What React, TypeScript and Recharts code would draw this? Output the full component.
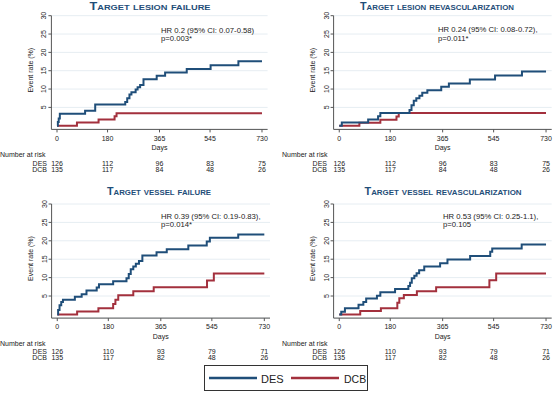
import React from 'react';
import { LineChart, Line, XAxis, YAxis, CartesianGrid } from 'recharts';

const DES_COLOR = '#1f4e79';
const DCB_COLOR = '#a3303d';
const TITLE_COLOR = '#1f4e79';
const AXIS_COLOR = '#555';
const FONT = '"Liberation Sans", Arial, Helvetica, sans-serif';

const dayTicks = [0, 180, 365, 545, 730];
const rateTicks = [5, 10, 15, 20, 25, 30];

// number at risk under each day tick
const riskLesionDES = [126, 112, 96, 83, 75];
const riskLesionDCB = [135, 117, 84, 48, 26];
const riskVesselDES = [126, 110, 93, 79, 71];
const riskVesselDCB = [135, 117, 82, 48, 26];

// Kaplan-Meier curves, [day, event rate %]
const tlfDES = [
  [0, 0], [3, 1], [6, 2], [10, 3.3], [100, 4.1], [136, 5.8], [243, 6.5], [250, 7.5],
  [258, 8.5], [265, 9.1], [280, 9.9], [287, 10.5], [296, 11.1], [308, 12.7], [355, 13.6],
  [385, 14.5], [462, 15.5], [547, 16.5], [646, 17.6], [730, 17.6],
];
const tlfDCB = [[0, 0], [71, 0.9], [148, 1.7], [205, 2.6], [212, 3.4], [730, 3.4]];

const tlrDES = [
  [0, 0], [9, 0.9], [102, 1.7], [137, 2.6], [145, 3.5], [248, 4.3], [255, 5.6], [263, 6.8],
  [272, 7.5], [283, 8.2], [293, 9.0], [311, 9.7], [360, 10.6], [387, 11.5], [461, 12.6],
  [550, 13.7], [645, 14.8], [730, 14.8],
];
const tlrDCB = [[0, 0], [71, 0.8], [145, 1.6], [202, 2.5], [210, 3.5], [730, 3.5]];

const tvfDES = [
  [0, 0], [3, 1.2], [8, 2.5], [14, 3.4], [20, 4.0], [62, 4.8], [86, 5.5], [103, 6.5],
  [139, 7.3], [147, 8.2], [197, 9.0], [244, 9.8], [252, 11.0], [259, 12.3], [268, 13.0],
  [277, 13.8], [288, 14.5], [300, 16.0], [350, 16.9], [386, 17.7], [462, 18.7], [527, 19.8],
  [538, 20.8], [638, 21.7], [730, 21.7],
];
const tvfDCB = [
  [0, 0], [70, 0.8], [145, 1.7], [197, 2.8], [205, 4.0], [215, 5.2], [268, 6.3], [340, 7.4],
  [528, 9.2], [552, 11.1], [730, 11.1],
];

const tvrDES = [
  [0, 0], [7, 0.7], [20, 1.7], [68, 2.6], [85, 3.4], [95, 4.3], [133, 5.1], [145, 6.0],
  [197, 6.9], [244, 7.7], [250, 8.6], [256, 9.8], [265, 10.5], [273, 11.2], [282, 12.0],
  [300, 13.0], [356, 13.9], [382, 14.9], [462, 15.9], [533, 17.0], [540, 17.9], [644, 19.0],
  [730, 19.0],
];
const tvrDCB = [
  [0, 0], [74, 0.9], [147, 1.7], [205, 3.2], [212, 4.4], [228, 5.3], [274, 6.3], [342, 7.4],
  [530, 9.3], [554, 11.1], [730, 11.1],
];

const toRows = (pts: number[][]) => pts.map(([day, rate]) => ({ day, rate }));

const W = 277;
const H = 185;

type PanelProps = {
  ox: number;
  oy: number;
  plotLeft: number;
  plotWidth: number;
  plotTop: number;
  plotHeight: number;
  des: number[][];
  dcb: number[][];
  riskDES: number[];
  riskDCB: number[];
};

const Panel = (p: PanelProps) => {
  const DayTick = (t: any) => {
    const i = dayTicks.indexOf(t.payload.value);
    return (
      <g fontFamily={FONT} fontSize={7} fill="#222">
        <text x={t.x} y={t.y + 3.7} textAnchor="middle" dominantBaseline="central">{t.payload.value}</text>
        <text x={t.x} y={t.y + 28.8} textAnchor="middle" dominantBaseline="central">{p.riskDES[i]}</text>
        <text x={t.x} y={t.y + 34.8} textAnchor="middle" dominantBaseline="central">{p.riskDCB[i]}</text>
      </g>
    );
  };
  const RateTick = (t: any) => (
    <text
      x={t.x - 2.5}
      y={t.y}
      transform={`rotate(-90 ${t.x - 2.5} ${t.y})`}
      textAnchor="middle"
      dominantBaseline="central"
      fontFamily={FONT}
      fontSize={7}
      fill="#222"
    >
      {t.payload.value}
    </text>
  );
  return (
    <div style={{ position: 'absolute', left: p.ox, top: p.oy }}>
      <LineChart
        width={W}
        height={H}
        margin={{
          top: p.plotTop,
          left: p.plotLeft - 20,
          right: W - p.plotLeft - p.plotWidth,
          bottom: H - p.plotTop - p.plotHeight - 20,
        }}
      >
        <CartesianGrid vertical={false} stroke="#e6edf2" />
        <XAxis
          type="number"
          dataKey="day"
          domain={[-20, 750]}
          ticks={dayTicks}
          interval={0}
          allowDataOverflow
          height={20}
          tickSize={3}
          tickMargin={2}
          axisLine={{ stroke: AXIS_COLOR }}
          tickLine={{ stroke: AXIS_COLOR }}
          tick={DayTick}
        />
        <YAxis
          type="number"
          domain={[-1, 30]}
          ticks={rateTicks}
          interval={0}
          allowDataOverflow
          width={20}
          tickSize={3}
          tickMargin={2}
          axisLine={{ stroke: AXIS_COLOR }}
          tickLine={{ stroke: AXIS_COLOR }}
          tick={RateTick}
        />
        <Line data={toRows(p.dcb)} dataKey="rate" type="stepAfter" stroke={DCB_COLOR} strokeWidth={2} dot={false} isAnimationActive={false} />
        <Line data={toRows(p.des)} dataKey="rate" type="stepAfter" stroke={DES_COLOR} strokeWidth={2} dot={false} isAnimationActive={false} />
      </LineChart>
    </div>
  );
};

type LabelProps = {
  ox: number;
  oy: number;
  plotLeft: number;
  plotWidth: number;
  plotTop: number;
  plotHeight: number;
  title: string;
  titleX: number;
  titleY: number;
  titleW: number;
  hr: string;
  pval: string;
  hrX: number;
  hrY: number;
  nrX: number;
  rowX: number;
};

const PanelLabels = (l: LabelProps) => {
  const axisY = l.oy + l.plotTop + l.plotHeight;
  const yl = l.ox + l.plotLeft - 21;
  const ylY = l.oy + l.plotTop + 54.5;
  return (
    <g fontFamily={FONT} fill="#222">
      <text
        x={l.titleX}
        y={l.titleY}
        textAnchor="middle"
        fontSize={11}
        fontWeight="bold"
        fill={TITLE_COLOR}
        style={{ fontVariant: 'small-caps' }}
        textLength={l.titleW}
        lengthAdjust="spacingAndGlyphs"
      >
        {l.title}
      </text>
      <text x={l.hrX} y={l.hrY} fontSize={7.7} dominantBaseline="central">{l.hr}</text>
      <text x={l.hrX} y={l.hrY + 8.5} fontSize={7.7} dominantBaseline="central">{l.pval}</text>
      <text x={yl} y={ylY} fontSize={7} textAnchor="middle" dominantBaseline="central" transform={`rotate(-90 ${yl} ${ylY})`}>
        Event rate (%)
      </text>
      <text x={l.ox + l.plotLeft + l.plotWidth / 2} y={axisY + 18} fontSize={7} textAnchor="middle" dominantBaseline="central">Days</text>
      <text x={l.ox + l.nrX} y={axisY + 25.5} fontSize={7} dominantBaseline="central">Number at risk</text>
      <text x={l.ox + l.rowX} y={axisY + 33.8} fontSize={7} textAnchor="end" dominantBaseline="central">DES</text>
      <text x={l.ox + l.rowX} y={axisY + 39.8} fontSize={7} textAnchor="end" dominantBaseline="central">DCB</text>
    </g>
  );
};

const geoTL = { ox: 0, oy: 0, plotLeft: 51.4, plotWidth: 216.2, plotTop: 15.7, plotHeight: 113.7 };
const geoTR = { ox: 277, oy: 0, plotLeft: 56.6, plotWidth: 218.1, plotTop: 15.7, plotHeight: 113.7 };
const geoBL = { ox: 0, oy: 190, plotLeft: 51.6, plotWidth: 218.4, plotTop: 14, plotHeight: 114.1 };
const geoBR = { ox: 277, oy: 190, plotLeft: 56.6, plotWidth: 218.1, plotTop: 14, plotHeight: 114.1 };

export default function App() {
  return (
    <div style={{ position: 'absolute', left: 0, top: 0, width: 554, height: 395, background: '#fff', overflow: 'hidden' }}>
      <Panel {...geoTL} des={tlfDES} dcb={tlfDCB} riskDES={riskLesionDES} riskDCB={riskLesionDCB} />
      <Panel {...geoTR} des={tlrDES} dcb={tlrDCB} riskDES={riskLesionDES} riskDCB={riskLesionDCB} />
      <Panel {...geoBL} des={tvfDES} dcb={tvfDCB} riskDES={riskVesselDES} riskDCB={riskVesselDCB} />
      <Panel {...geoBR} des={tvrDES} dcb={tvrDCB} riskDES={riskVesselDES} riskDCB={riskVesselDCB} />
      <svg width={554} height={395} style={{ position: 'absolute', left: 0, top: 0, pointerEvents: 'none' }}>
        <PanelLabels {...geoTL} title="Target lesion failure" titleX={150} titleY={9.5} titleW={121}
          hr="HR 0.2 (95% CI: 0.07-0.58)" pval="p=0.003*" hrX={161} hrY={30} nrX={0} rowX={47} />
        <PanelLabels {...geoTR} title="Target lesion revascularization" titleX={437} titleY={9.5} titleW={154}
          hr="HR 0.24 (95% CI: 0.08-0.72)," pval="p=0.011*" hrX={438} hrY={29.5} nrX={5} rowX={50} />
        <PanelLabels {...geoBL} title="Target vessel failure" titleX={159} titleY={195} titleW={104}
          hr="HR 0.39 (95% CI: 0.19-0.83)," pval="p=0.014*" hrX={161} hrY={216} nrX={0} rowX={47} />
        <PanelLabels {...geoBR} title="Target vessel revascularization" titleX={443} titleY={195} titleW={157}
          hr="HR 0.53 (95% CI: 0.25-1.1)," pval="p=0.105" hrX={443} hrY={216} nrX={5} rowX={50} />
        <g fontFamily={FONT}>
          <rect x={204.5} y={365.5} width={163} height={25} fill="#fff" stroke="#333" strokeWidth={1} />
          <line x1={209} x2={257} y1={378} y2={378} stroke={DES_COLOR} strokeWidth={2.5} />
          <text x={261} y={378.5} fontSize={11} dominantBaseline="central" fill="#222">DES</text>
          <line x1={291} x2={339} y1={378} y2={378} stroke={DCB_COLOR} strokeWidth={2.5} />
          <text x={344} y={378.5} fontSize={10.5} dominantBaseline="central" fill="#222">DCB</text>
        </g>
      </svg>
    </div>
  );
}
